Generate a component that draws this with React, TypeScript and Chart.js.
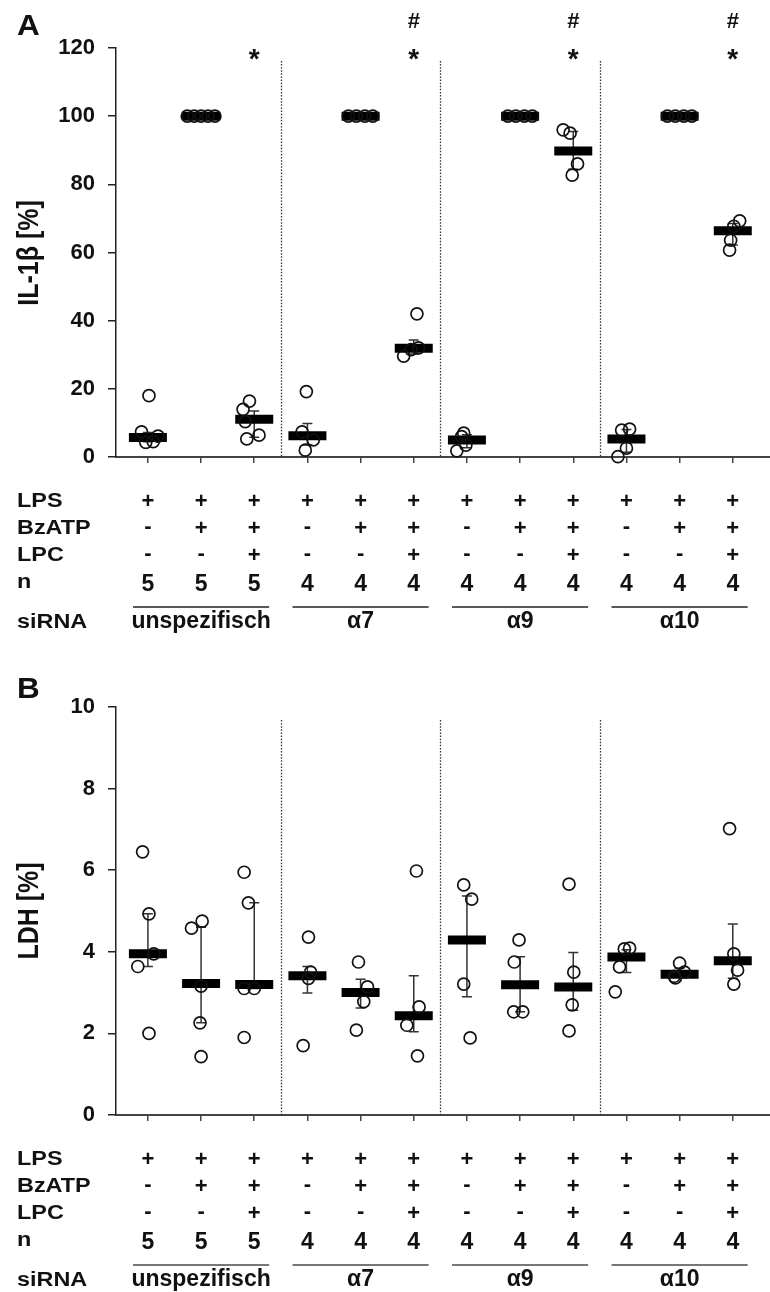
import React, { useEffect, useRef } from "react";
import { Chart, registerables } from "chart.js";
Chart.register(...registerables);

// ---------- shared table data ----------
const categoryIndex = [0, 1, 2, 3, 4, 5, 6, 7, 8, 9, 10, 11];
const lpsRow = ["+", "+", "+", "+", "+", "+", "+", "+", "+", "+", "+", "+"];
const bzatpRow = ["-", "+", "+", "-", "+", "+", "-", "+", "+", "-", "+", "+"];
const lpcRow = ["-", "-", "+", "-", "-", "+", "-", "-", "+", "-", "-", "+"];
const nRow = ["5", "5", "5", "4", "4", "4", "4", "4", "4", "4", "4", "4"];
const rowLabels = ["LPS", "BzATP", "LPC", "n"];
const groupLabels = ["unspezifisch", "α7", "α9", "α10"];
const groupFirst = [0, 3, 6, 9];
const groupLast = [2, 5, 8, 11];
const separatorsAt = [2.5, 5.5, 8.5];

// ---------- panel A: IL-1β ----------
const il1bPoints = [
  [18, 7.4, 6.1, 4.5, 4.3],
  [100, 100, 100, 100, 100],
  [16.4, 14, 10.4, 6.4, 5.3],
  [19.2, 7.4, 5, 2],
  [100, 100, 100, 100],
  [42, 32, 29.6, 31.5],
  [7, 6, 3.5, 1.8],
  [100, 100, 100, 100],
  [96, 95, 86, 82.7],
  [7.9, 8.2, 2.6, 0.1],
  [100, 100, 100, 100],
  [69.3, 67.7, 63.6, 60.7],
];
const il1bJitter = [
  [0.02, -0.12, 0.19, 0.1, -0.04],
  [-0.26, -0.13, 0, 0.13, 0.26],
  [-0.09, -0.21, -0.17, 0.09, -0.14],
  [-0.02, -0.1, 0.11, -0.04],
  [-0.23, -0.08, 0.08, 0.23],
  [0.06, 0.09, -0.19, -0.05],
  [-0.06, -0.1, -0.02, -0.19],
  [-0.23, -0.08, 0.08, 0.23],
  [-0.19, -0.06, 0.08, -0.02],
  [-0.09, 0.06, 0, -0.16],
  [-0.23, -0.08, 0.08, 0.23],
  [0.13, 0.02, -0.04, -0.06],
];
const il1bMedian = [5.7, 100, 11.1, 6.2, 100, 31.9, 5, 100, 89.8, 5.3, 100, 66.4];
const il1bQ1 = [4.5, 100, 5.8, 3.5, 100, 30.2, 2.7, 100, 84.4, 1.4, 100, 62.2];
const il1bQ3 = [7.2, 100, 13.5, 9.8, 100, 34.3, 6.5, 100, 95.5, 8.1, 100, 68.5];
const il1bStar = [false, false, true, false, false, true, false, false, true, false, false, true];
const il1bHash = [false, false, false, false, false, true, false, false, true, false, false, true];

// ---------- panel B: LDH ----------
const ldhPoints = [
  [6.45, 4.93, 3.95, 3.64, 2.0],
  [4.58, 4.75, 3.16, 2.26, 1.43],
  [5.95, 5.2, 3.1, 3.1, 1.9],
  [4.36, 3.5, 3.35, 1.7],
  [3.75, 3.14, 2.78, 2.08],
  [5.98, 2.65, 2.2, 1.45],
  [5.64, 5.29, 3.21, 1.89],
  [4.29, 3.75, 2.53, 2.53],
  [5.66, 3.5, 2.7, 2.06],
  [4.07, 4.09, 3.63, 3.02],
  [3.72, 3.5, 3.4, 3.36],
  [7.02, 3.95, 3.55, 3.21],
];
const ldhJitter = [
  [-0.1, 0.02, 0.11, -0.19, 0.02],
  [-0.18, 0.02, 0, -0.02, 0],
  [-0.19, -0.11, -0.19, 0, -0.19],
  [0.02, 0.06, 0.02, -0.08],
  [-0.04, 0.13, 0.06, -0.08],
  [0.05, 0.1, -0.13, 0.07],
  [-0.06, 0.09, -0.06, 0.06],
  [-0.02, -0.11, -0.12, 0.05],
  [-0.08, 0.01, -0.02, -0.08],
  [-0.04, 0.06, -0.13, -0.21],
  [0, 0.09, -0.1, -0.08],
  [-0.06, 0.02, 0.09, 0.02],
];
const ldhMedian = [3.95, 3.22, 3.2, 3.41, 3.0, 2.43, 4.29, 3.19, 3.14, 3.87, 3.45, 3.78];
const ldhQ1 = [3.64, 2.26, 3.1, 2.99, 2.62, 2.04, 2.9, 2.53, 2.57, 3.49, 3.38, 3.35];
const ldhQ3 = [4.93, 4.6, 5.2, 3.64, 3.33, 3.41, 5.37, 3.88, 3.98, 4.05, 3.6, 4.68];

const FONT = '"Liberation Sans", Arial, Helvetica, sans-serif';
const W = 770;
const H = 646;

type PanelCfg = {
  letter: string;
  yTitle: string;
  yMax: number;
  yStep: number;
  top: number;
  bottom: number;
  points: number[][];
  jitter: number[][];
  median: number[];
  q1: number[];
  q3: number[];
  star?: boolean[];
  hash?: boolean[];
  starLevel?: number;
  hashLevel?: number;
  sepTop: number;
  groupLineColor: string;
  groupLineWidth: number;
  titleY: number;
  letterBaseline: number;
};

function stretchedText(
  ctx: CanvasRenderingContext2D,
  text: string,
  x: number,
  y: number,
  size: number,
  sx: number,
  align: CanvasTextAlign
) {
  ctx.save();
  ctx.translate(x, y);
  ctx.scale(sx, 1);
  ctx.font = `bold ${size}px ${FONT}`;
  ctx.textAlign = align;
  ctx.textBaseline = "alphabetic";
  ctx.fillText(text, 0, 0);
  ctx.restore();
}

function makeConfig(p: PanelCfg): any {
  const circleData: { x: number; y: number }[] = [];
  p.points.forEach((vals, i) =>
    vals.forEach((v, j) => circleData.push({ x: categoryIndex[i] + p.jitter[i][j], y: v }))
  );
  const medianData = p.median.map((m, i) => ({ x: categoryIndex[i], y: m }));

  const panelPlugin = {
    id: "panelExtras",
    beforeDatasetsDraw(chart: any) {
      const { ctx, chartArea, scales } = chart;
      const x = scales.x;
      const y = scales.y;
      ctx.save();
      // dotted separators
      ctx.strokeStyle = "#333";
      ctx.lineWidth = 1.3;
      ctx.setLineDash([1.5, 1.6]);
      separatorsAt.forEach((s) => {
        const px = Math.round(x.getPixelForValue(s)) + 0.5;
        ctx.beginPath();
        ctx.moveTo(px, y.getPixelForValue(p.sepTop));
        ctx.lineTo(px, chartArea.bottom);
        ctx.stroke();
      });
      ctx.setLineDash([]);
      // error bars (IQR)
      ctx.strokeStyle = "#333";
      ctx.lineWidth = 1.5;
      p.q1.forEach((lo, i) => {
        const hi = p.q3[i];
        if (hi - lo <= 0) return;
        const px = x.getPixelForValue(categoryIndex[i]);
        const pLo = y.getPixelForValue(lo);
        const pHi = y.getPixelForValue(hi);
        ctx.beginPath();
        ctx.moveTo(px, pLo);
        ctx.lineTo(px, pHi);
        ctx.moveTo(px - 5, pLo);
        ctx.lineTo(px + 5, pLo);
        ctx.moveTo(px - 5, pHi);
        ctx.lineTo(px + 5, pHi);
        ctx.stroke();
      });
      ctx.restore();
    },
    afterDraw(chart: any) {
      const { ctx, chartArea, scales } = chart;
      const x = scales.x;
      const y = scales.y;
      const b = chartArea.bottom;
      ctx.save();
      ctx.fillStyle = "#111";
      // panel letter
      stretchedText(ctx, p.letter, 17, p.letterBaseline, 30, 1.05, "left");
      // y title
      ctx.save();
      ctx.translate(29.5, p.titleY);
      ctx.scale(1.17, 1);
      ctx.rotate(-Math.PI / 2);
      ctx.font = `bold 25px ${FONT}`;
      ctx.textAlign = "center";
      ctx.textBaseline = "middle";
      ctx.fillText(p.yTitle, 0, 0);
      ctx.restore();
      // annotations
      if (p.star && p.starLevel !== undefined) {
        ctx.font = `bold 28px ${FONT}`;
        ctx.textAlign = "center";
        ctx.textBaseline = "alphabetic";
        p.star.forEach((s, i) => {
          if (!s) return;
          ctx.fillText("*", x.getPixelForValue(categoryIndex[i]), y.getPixelForValue(p.starLevel!) + 15.5);
        });
      }
      if (p.hash && p.hashLevel !== undefined) {
        ctx.font = `bold 22px ${FONT}`;
        ctx.textAlign = "center";
        p.hash.forEach((s, i) => {
          if (!s) return;
          ctx.fillText("#", x.getPixelForValue(categoryIndex[i]), y.getPixelForValue(p.hashLevel!) + 8);
        });
      }
      // row labels
      const rowCenters = [43, 70, 97];
      rowLabels.forEach((lab, r) => {
        const base = r < 3 ? b + rowCenters[r] + 7.2 : b + 131;
        stretchedText(ctx, lab, 17, base, 20, 1.17, "left");
      });
      // symbols
      const rows = [lpsRow, bzatpRow, lpcRow];
      ctx.font = `bold 22px ${FONT}`;
      ctx.textAlign = "center";
      ctx.textBaseline = "alphabetic";
      rows.forEach((row, r) => {
        row.forEach((sym, i) => {
          const px = x.getPixelForValue(categoryIndex[i]);
          const base = b + rowCenters[r] + (sym === "+" ? 7.7 : 6.2);
          ctx.fillText(sym, px, base);
        });
      });
      ctx.font = `bold 23px ${FONT}`;
      nRow.forEach((n, i) => {
        ctx.fillText(n, x.getPixelForValue(categoryIndex[i]), b + 134);
      });
      // group lines and labels
      ctx.strokeStyle = p.groupLineColor;
      ctx.lineWidth = p.groupLineWidth;
      groupLabels.forEach((g, k) => {
        const x0 = x.getPixelForValue(categoryIndex[groupFirst[k]] - 0.28);
        const x1 = x.getPixelForValue(categoryIndex[groupLast[k]] + 0.28);
        const ly = b + 150;
        ctx.beginPath();
        ctx.moveTo(x0, ly);
        ctx.lineTo(x1, ly);
        ctx.stroke();
        const cx = (x.getPixelForValue(categoryIndex[groupFirst[k]]) + x.getPixelForValue(categoryIndex[groupLast[k]])) / 2;
        ctx.font = `bold 23px ${FONT}`;
        ctx.textAlign = "center";
        ctx.fillText(g, cx, b + 171);
      });
      stretchedText(ctx, "siRNA", 17, b + 171, 20, 1.17, "left");
      ctx.restore();
    },
  };

  return {
    type: "scatter",
    data: {
      datasets: [
        {
          data: circleData,
          pointStyle: "circle",
          pointRadius: 6,
          pointHoverRadius: 6,
          pointBorderWidth: 1.7,
          borderColor: "#111",
          backgroundColor: "rgba(0,0,0,0)",
          showLine: false,
          clip: false,
          order: 0,
        },
        {
          data: medianData,
          pointStyle: "line",
          pointRadius: 19,
          pointHoverRadius: 19,
          pointBorderWidth: 9,
          borderColor: "#000",
          backgroundColor: "#000",
          showLine: false,
          clip: false,
          order: 1,
        },
      ],
    },
    options: {
      responsive: false,
      animation: false,
      devicePixelRatio: 1,
      events: [],
      layout: { autoPadding: false, padding: { left: 0, right: 0, top: p.top, bottom: 0 } },
      plugins: { legend: { display: false }, tooltip: { enabled: false } },
      scales: {
        x: {
          type: "linear",
          min: -0.6,
          max: 11.7,
          afterBuildTicks(s: any) {
            s.ticks = categoryIndex.map((v) => ({ value: v }));
          },
          afterFit(s: any) {
            s.height = H - p.bottom;
          },
          ticks: { display: false },
          grid: { display: true, drawOnChartArea: false, drawTicks: true, tickLength: 6, color: "#444", lineWidth: 1.5 },
          border: { display: true, color: "#444", width: 2 },
        },
        y: {
          min: 0,
          max: p.yMax,
          afterFit(s: any) {
            s.width = 116;
          },
          ticks: {
            stepSize: p.yStep,
            color: "#111",
            padding: 13,
            font: { family: FONT, size: 22, weight: "bold" },
          },
          grid: { display: true, drawOnChartArea: false, drawTicks: true, tickLength: 8, color: "#222", lineWidth: 1.5 },
          border: { display: true, color: "#222", width: 1.5 },
        },
      },
    },
    plugins: [panelPlugin],
  };
}

const panelA: PanelCfg = {
  letter: "A",
  yTitle: "IL-1β [%]",
  yMax: 120,
  yStep: 20,
  top: 48,
  bottom: 457,
  points: il1bPoints,
  jitter: il1bJitter,
  median: il1bMedian,
  q1: il1bQ1,
  q3: il1bQ3,
  star: il1bStar,
  hash: il1bHash,
  starLevel: 118.8,
  hashLevel: 128.2,
  sepTop: 116.2,
  groupLineColor: "#222",
  groupLineWidth: 1.5,
  titleY: 253,
  letterBaseline: 35,
};

const panelB: PanelCfg = {
  letter: "B",
  yTitle: "LDH [%]",
  yMax: 10,
  yStep: 2,
  top: 61,
  bottom: 469,
  points: ldhPoints,
  jitter: ldhJitter,
  median: ldhMedian,
  q1: ldhQ1,
  q3: ldhQ3,
  sepTop: 9.68,
  groupLineColor: "#777",
  groupLineWidth: 2,
  titleY: 265,
  letterBaseline: 52,
};

function Panel({ cfg }: { cfg: PanelCfg }) {
  const ref = useRef<HTMLCanvasElement | null>(null);
  useEffect(() => {
    if (!ref.current) return;
    const chart = new Chart(ref.current, makeConfig(cfg));
    return () => chart.destroy();
  }, [cfg]);
  return <canvas ref={ref} width={W} height={H} style={{ display: "block", width: W, height: H }} />;
}

export default function App() {
  return (
    <div style={{ position: "absolute", left: 0, top: 0, width: W, height: 2 * H, background: "#fff" }}>
      <Panel cfg={panelA} />
      <Panel cfg={panelB} />
    </div>
  );
}
